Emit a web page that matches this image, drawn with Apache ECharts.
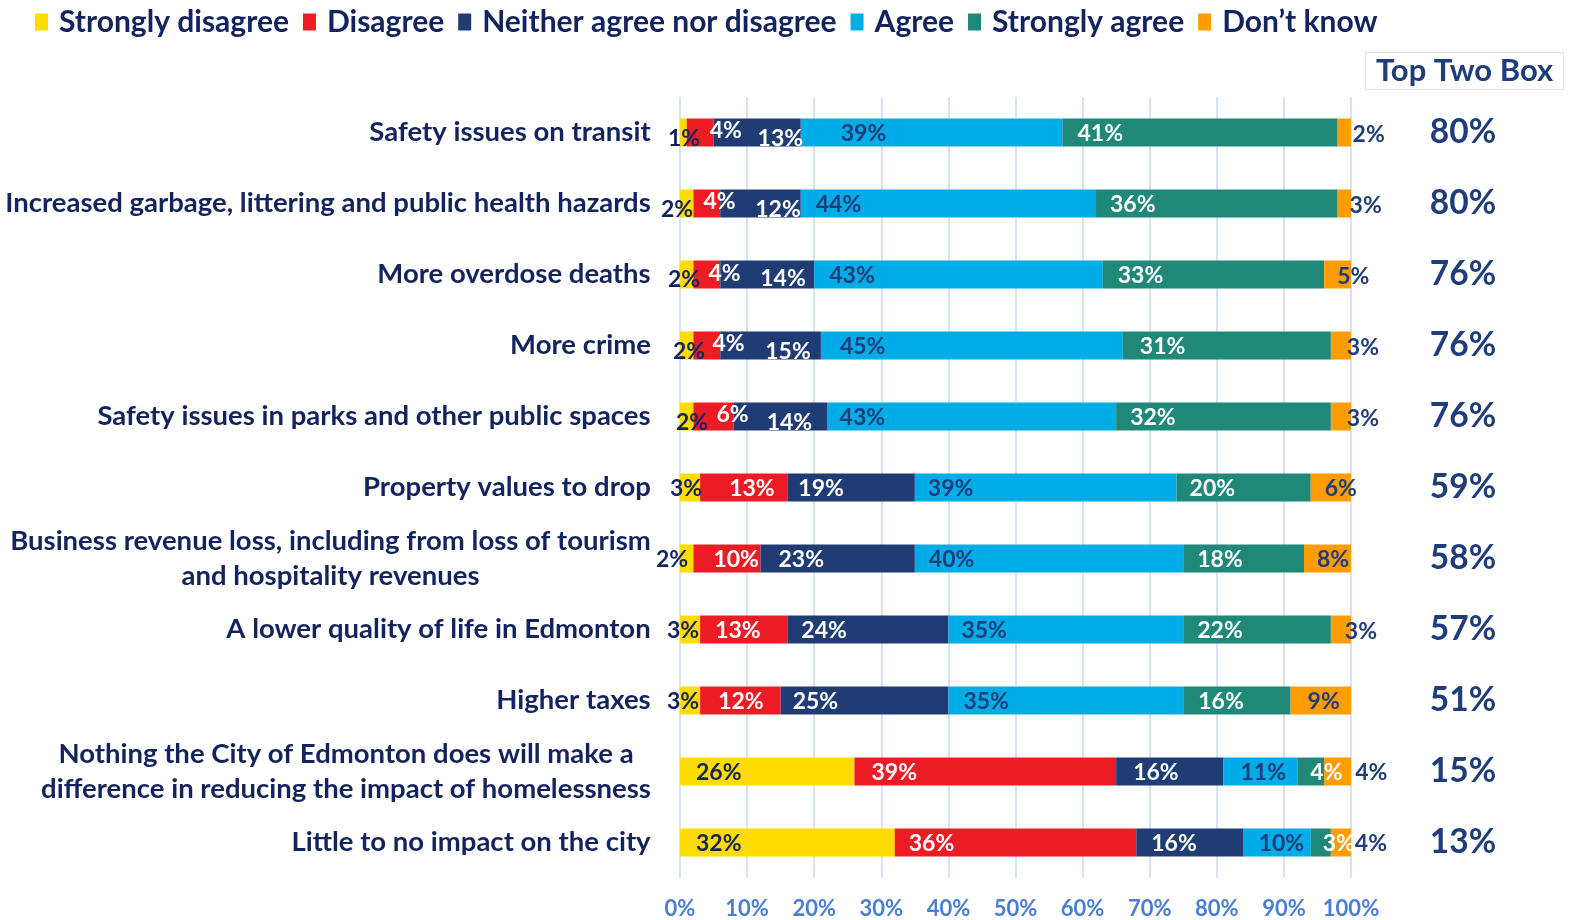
<!DOCTYPE html>
<html>
<head>
<meta charset="utf-8">
<script src="https://cdn.jsdelivr.net/npm/echarts@6/dist/echarts.min.js"></script>
<style>
  html, body { margin: 0; padding: 0; background: #ffffff; }
  #chart { width: 1570px; height: 920px; }
</style>
</head>
<body>
<div id="chart"></div>
<script>
// Survey statements (top to bottom)
const categories = [
  'Safety issues on transit',
  'Increased garbage, littering and public health hazards',
  'More overdose deaths',
  'More crime',
  'Safety issues in parks and other public spaces',
  'Property values to drop',
  'Business revenue loss, including from loss of tourism\nand hospitality revenues',
  'A lower quality of life in Edmonton',
  'Higher taxes',
  'Nothing the City of Edmonton does will make a\ndifference in reducing the impact of homelessness',
  'Little to no impact on the city'
];

// Response shares, in percent
const stronglyDisagree = [1, 2, 2, 2, 2, 3, 2, 3, 3, 26, 32];
const disagree         = [4, 4, 4, 4, 6, 13, 10, 13, 12, 39, 36];
const neither          = [13, 12, 14, 15, 14, 19, 23, 24, 25, 16, 16];
const agree            = [39, 44, 43, 45, 43, 39, 40, 35, 35, 11, 10];
const stronglyAgree    = [41, 36, 33, 31, 32, 20, 18, 22, 16, 4, 3];
const dontKnow         = [2, 3, 5, 3, 3, 6, 8, 3, 9, 4, 4];

// Agree + Strongly agree, as reported
const topTwoBox = [80, 80, 76, 76, 76, 59, 58, 57, 51, 15, 13];

const FONT = 'Lato, "Noto Sans", sans-serif';
const NAVY_TEXT = '#13235d';
const BOX_TEXT = '#1f3d7a';

// Value labels sit near the start of each segment; per-row nudges (px) keep
// the small ones readable.  dx is measured from the segment's left edge.
const labelDx = {
  sd: [-12, -19, -12, -7, -4, -10, -24, -13, -13, 16, 16],
  d:  [23, 10, 15, 19, 23, 29, 20, 15, 18, 17, 14],
  n:  [44, 35, 40, 45, 33, 11, 18, 14, 12, 17, 15],
  a:  [40, 15, 15, 19, 12, 13, 14, 13, 15, 17, 15],
  sa: [15, 14, 15, 17, 14, 13, 14, 14, 15, 13, 12],
  dk: [15, 12, 13, 16, 16, 14, 13, 14, 17, 31, 24]
};
const labelDy = {
  sd: [6, 6, 5, 6, 6, 1, 1, 1, 1, 1, 1],
  d:  [-2, -2, -1, -2, -2, 1, 1, 1, 1, 1, 1],
  n:  [6, 6, 4, 6, 6, 1, 1, 1, 1, 1, 1],
  a:  [1, 1, 1, 1, 1, 1, 1, 1, 1, 1, 1],
  sa: [1, 1, 1, 1, 1, 1, 1, 1, 1, 1, 1],
  dk: [2, 2, 2, 2, 2, 1, 1, 2, 1, 1, 1]
};

// Category labels: block right-aligned to the axis, lines centred inside the block
const CAT_SIZE = 27.5;
const measureCtx = document.createElement('canvas').getContext('2d');
measureCtx.font = 'bold ' + CAT_SIZE + 'px ' + FONT;
const catRich = {};
categories.forEach((c, i) => {
  const w = Math.max(...c.split('\n').map(l => measureCtx.measureText(l).width));
  catRich['c' + i] = {
    width: Math.ceil(w) + 2, align: 'center', fontSize: CAT_SIZE, fontWeight: 'bold',
    fontFamily: FONT, color: NAVY_TEXT, lineHeight: 35
  };
});

function seriesDef(name, key, values, color, labelColor) {
  return {
    name: name,
    type: 'bar',
    stack: 'total',
    barWidth: 28,
    data: values.map((v, i) => ({
      value: v,
      label: { offset: [labelDx[key][i], labelDy[key][i]] }
    })),
    itemStyle: { color: color },
    label: {
      show: true,
      position: 'insideLeft',
      distance: 0,
      formatter: '{c}%',
      color: labelColor,
      fontSize: 23,
      fontWeight: 'bold',
      fontFamily: FONT
    },
    emphasis: { disabled: true }
  };
}

const chart = echarts.init(document.getElementById('chart'), null, { renderer: 'canvas' });

chart.setOption({
  animation: false,
  backgroundColor: '#ffffff',
  title: {
    text: 'Top Two Box',
    left: 1365,
    top: 52,
    padding: [3, 11, 4, 11],
    borderColor: '#e3e3e3',
    borderWidth: 1,
    textStyle: { fontSize: 31, fontWeight: 'bold', color: BOX_TEXT, fontFamily: FONT }
  },
  legend: {
    left: 30,
    top: 2,
    icon: 'rect',
    itemWidth: 13,
    itemHeight: 17,
    itemGap: 14,
    selectedMode: false,
    textStyle: {
      fontSize: 30, fontWeight: 'bold', color: NAVY_TEXT, fontFamily: FONT,
      lineHeight: 30, padding: [0, 0, 0, 6]
    },
    data: ['Strongly disagree', 'Disagree', 'Neither agree nor disagree', 'Agree', 'Strongly agree', 'Don’t know']
  },
  grid: { left: 680, right: 219, top: 97, bottom: 42, containLabel: false },
  xAxis: {
    type: 'value',
    min: 0,
    max: 100,
    interval: 10,
    axisLine: { show: false },
    axisTick: { show: false },
    splitLine: { show: true, lineStyle: { color: '#d7e2f4', width: 2 } },
    axisLabel: {
      formatter: '{value}%',
      margin: 20,
      fontSize: 22,
      fontWeight: 'bold',
      fontFamily: FONT,
      color: '#4a7dd4'
    }
  },
  yAxis: [
    {
      type: 'category',
      inverse: true,
      data: categories,
      axisLine: { show: false },
      axisTick: { show: false },
      axisLabel: {
        margin: 28,
        align: 'right',
        formatter: (value, idx) => value.split('\n').map(l => '{c' + idx + '|' + l + '}').join('\n'),
        rich: catRich
      }
    },
    {
      type: 'category',
      inverse: true,
      position: 'right',
      data: categories,
      axisLine: { show: false },
      axisTick: { show: false },
      axisLabel: {
        margin: 112,
        align: 'center',
        fontSize: 33.5,
        fontWeight: 'bold',
        fontFamily: FONT,
        color: BOX_TEXT,
        formatter: (value, idx) => topTwoBox[idx] + '%'
      }
    }
  ],
  series: [
    seriesDef('Strongly disagree', 'sd', stronglyDisagree, '#fedc00', NAVY_TEXT),
    seriesDef('Disagree', 'd', disagree, '#ec1c24', '#ffffff'),
    seriesDef('Neither agree nor disagree', 'n', neither, '#1f3d74', '#ffffff'),
    seriesDef('Agree', 'a', agree, '#00ace6', BOX_TEXT),
    seriesDef('Strongly agree', 'sa', stronglyAgree, '#1f8878', '#ffffff'),
    seriesDef('Don’t know', 'dk', dontKnow, '#fe9c00', BOX_TEXT)
  ]
});
</script>
</body>
</html>
